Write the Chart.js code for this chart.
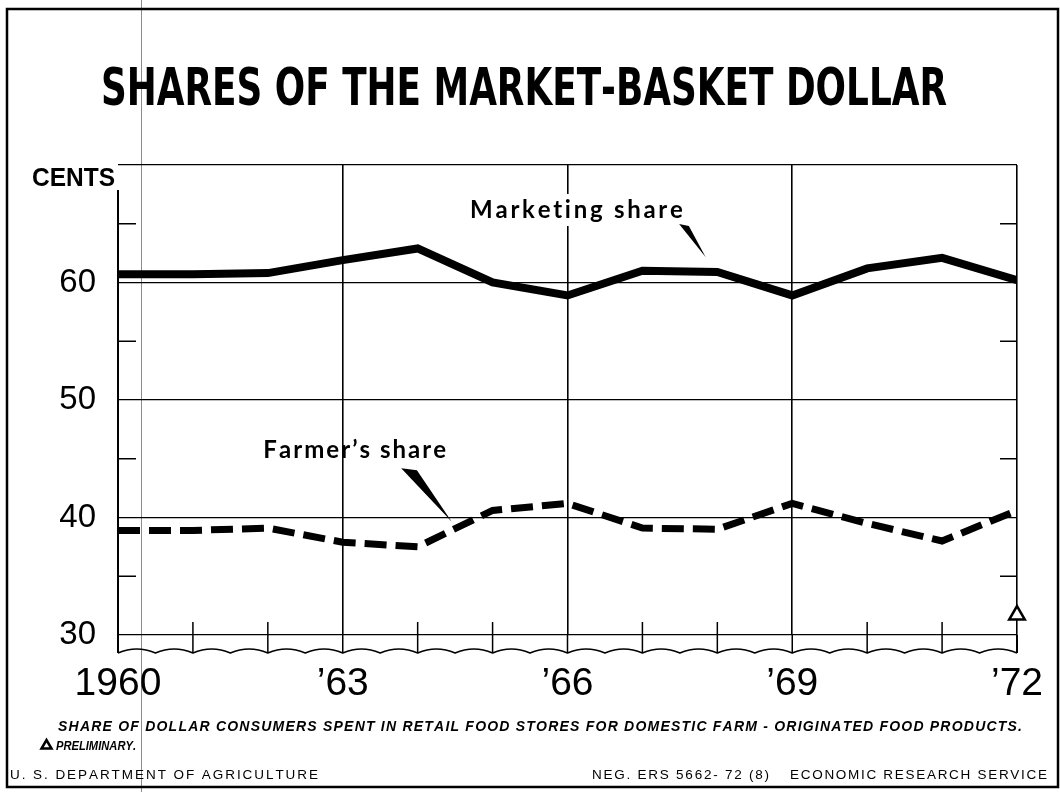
<!DOCTYPE html>
<html>
<head>
<meta charset="utf-8">
<script src="https://cdn.jsdelivr.net/npm/chart.js@4.4.0/dist/chart.umd.min.js"></script>
<style>
html, body { margin: 0; padding: 0; background: #fff; }
canvas { display: block; }
</style>
</head>
<body>
<canvas id="mygra" width="1060" height="792"></canvas>
<script>
// values (cents per market-basket dollar)
const years = [1960, 1961, 1962, 1963, 1964, 1965, 1966, 1967, 1968, 1969, 1970, 1971, 1972];
const marketingShare = [60.7, 60.7, 60.8, 61.9, 62.9, 60.0, 58.9, 61.0, 60.9, 58.9, 61.2, 62.1, 60.2];
const farmerShare = [38.9, 38.9, 39.1, 37.9, 37.5, 40.6, 41.2, 39.1, 39.0, 41.2, 39.5, 38.0, 40.6];
const preliminaryYear = [1972];
const preliminaryMark = [31.7];
const yearLabels = { 1960: '1960', 1963: '\u201963', 1966: '\u201966', 1969: '\u201969', 1972: '\u201972' };
const centsLabels = [30, 40, 50, 60];
const majorYears = [1963, 1966, 1969, 1972];

// letter-spaced text stretched to a given width
function spacedText(ctx, text, x, y, width) {
    const chars = Array.from(text);
    const widths = chars.map(c => ctx.measureText(c).width);
    const total = widths.reduce((a, b) => a + b, 0);
    ctx.save();
    ctx.textAlign = 'left';
    if (total > width) {
        ctx.translate(x, y);
        ctx.scale(width / total, 1);
        let cx = 0;
        chars.forEach((c, i) => { ctx.fillText(c, cx, 0); cx += widths[i]; });
    } else {
        const gap = chars.length > 1 ? (width - total) / (chars.length - 1) : 0;
        let cx = x;
        chars.forEach((c, i) => { ctx.fillText(c, cx, y); cx += widths[i] + gap; });
    }
    ctx.restore();
}

const paperDecor = {
    id: 'paperDecor',
    beforeDraw(chart) {
        const ctx = chart.ctx;
        ctx.save();
        ctx.fillStyle = '#fff';
        ctx.fillRect(0, 0, chart.width, chart.height);
        ctx.restore();
    },
    beforeDatasetsDraw(chart) {
        // paper gap in the '66 grid line behind the marketing note
        const xs = chart.scales.x, ys = chart.scales.y;
        const ctx = chart.ctx;
        ctx.save();
        ctx.fillStyle = '#fff';
        const x0 = xs.getPixelForValue(1964.70), x1 = xs.getPixelForValue(1967.54);
        const yb = ys.getPixelForValue(65.49);
        ctx.fillRect(x0, yb - 24, x1 - x0, 32);
        ctx.restore();
    },
    afterDraw(chart) {
        const ctx = chart.ctx;
        const xs = chart.scales.x, ys = chart.scales.y;
        const X = v => xs.getPixelForValue(v);
        const Y = v => ys.getPixelForValue(v);
        const base = Y(30);
        const waveY = base + 18;

        ctx.save();
        ctx.strokeStyle = '#000';
        ctx.fillStyle = '#000';

        // left axis, right axis and grid extensions down to the broken baseline
        ctx.lineWidth = 2;
        ctx.beginPath();
        ctx.moveTo(X(1960), 190); ctx.lineTo(X(1960), waveY);
        ctx.moveTo(X(1972), base); ctx.lineTo(X(1972), waveY);
        ctx.stroke();
        ctx.lineWidth = 1.5;
        ctx.beginPath();
        years.forEach(yr => {
            if (yr === 1960 || yr === 1972) return;
            const top = majorYears.includes(yr) ? base : base - 13;
            ctx.moveTo(X(yr), top); ctx.lineTo(X(yr), waveY);
        });
        // minor cent ticks on both sides
        [35, 45, 55, 65].forEach(v => {
            ctx.moveTo(X(1960), Y(v)); ctx.lineTo(X(1960) + 18, Y(v));
            ctx.moveTo(X(1972), Y(v)); ctx.lineTo(X(1972) - 17, Y(v));
        });
        ctx.stroke();

        // wavy break line
        const half = (X(1961) - X(1960)) / 2;
        ctx.lineWidth = 1.6;
        ctx.beginPath();
        ctx.moveTo(X(1960), waveY);
        for (let px = X(1960); px < X(1972) - 0.5; px += half) {
            const nx = Math.min(px + half, X(1972));
            ctx.quadraticCurveTo((px + nx) / 2, waveY - 8, nx, waveY);
        }
        ctx.stroke();

        // title
        ctx.font = 'bold 52px "Liberation Sans Narrow", "DejaVu Sans Condensed", sans-serif';
        ctx.textBaseline = 'alphabetic';
        spacedText(ctx, 'SHARES OF THE MARKET-BASKET DOLLAR', 101, 105, 846);

        // unit label
        ctx.font = 'bold 25px "Liberation Sans", sans-serif';
        spacedText(ctx, 'CENTS', 32, 186, 83);

        // series notes with pointers
        ctx.font = 'bold 24px Lato, "Liberation Sans", sans-serif';
        spacedText(ctx, 'Marketing share', X(1964.70), Y(65.49), X(1967.54) - X(1964.70));
        spacedText(ctx, 'Farmer\u2019s share', X(1961.94), Y(45.06), X(1964.38) - X(1961.94));
        const wedge = (a, b, c) => {
            ctx.beginPath();
            ctx.moveTo(X(a[0]), Y(a[1]));
            ctx.lineTo(X(b[0]), Y(b[1]));
            ctx.lineTo(X(c[0]), Y(c[1]));
            ctx.closePath();
            ctx.fill();
        };
        wedge([1967.49, 64.98], [1967.62, 64.80], [1967.845, 62.14]);
        wedge([1963.78, 44.19], [1963.99, 44.02], [1964.455, 39.64]);

        // footnotes
        ctx.font = 'italic bold 14px "Liberation Sans", sans-serif';
        spacedText(ctx, 'SHARE OF DOLLAR CONSUMERS SPENT IN RETAIL FOOD STORES FOR DOMESTIC FARM - ORIGINATED FOOD PRODUCTS.', 58, 731, 964);
        ctx.font = 'italic bold 13px "Liberation Sans", sans-serif';
        spacedText(ctx, 'PRELIMINARY.', 56, 750, 80);
        ctx.lineWidth = 2.5;
        ctx.beginPath();
        ctx.moveTo(41.5, 748.5); ctx.lineTo(51.5, 748.5); ctx.lineTo(46.5, 740);
        ctx.closePath();
        ctx.stroke();

        ctx.font = '13.5px "Liberation Sans", sans-serif';
        spacedText(ctx, 'U. S. DEPARTMENT OF AGRICULTURE', 10, 779, 308);
        spacedText(ctx, 'NEG. ERS 5662- 72 (8)', 592, 779, 177);
        spacedText(ctx, 'ECONOMIC RESEARCH SERVICE', 790, 779, 257);

        // page frame and crease
        ctx.lineWidth = 2.5;
        ctx.strokeRect(7, 9, 1051, 778);
        ctx.strokeStyle = 'rgba(0,0,0,0.45)';
        ctx.lineWidth = 1;
        ctx.beginPath();
        ctx.moveTo(141.5, 0); ctx.lineTo(141.5, 792);
        ctx.stroke();
        ctx.restore();
    }
};

const data = {
    datasets: [{
        label: 'Marketing share',
        data: years.map((yr, i) => ({ x: yr, y: marketingShare[i] })),
        borderColor: '#000',
        backgroundColor: '#000',
        borderWidth: 8,
        borderJoinStyle: 'miter',
        pointRadius: 0,
        tension: 0,
    }, {
        label: "Farmer's share",
        data: years.map((yr, i) => ({ x: yr, y: farmerShare[i] })),
        borderColor: '#000',
        backgroundColor: '#000',
        borderWidth: 7,
        borderDash: [22, 9],
        borderCapStyle: 'butt',
        borderJoinStyle: 'miter',
        pointRadius: 0,
        tension: 0,
    }, {
        label: 'Preliminary',
        data: preliminaryYear.map((yr, i) => ({ x: yr, y: preliminaryMark[i] })),
        showLine: false,
        pointStyle: 'triangle',
        pointRadius: 9,
        pointBorderWidth: 2.5,
        pointBorderColor: '#000',
        pointBackgroundColor: '#fff',
        clip: false,
    }]
};

const config = {
    type: 'line',
    data: data,
    plugins: [paperDecor],
    options: {
        responsive: false,
        animation: false,
        events: [],
        layout: { padding: { left: 0, right: 43, top: 165, bottom: 97 } },
        plugins: { legend: { display: false }, tooltip: { enabled: false } },
        scales: {
            x: {
                type: 'linear',
                min: 1960,
                max: 1972,
                afterFit: scale => {
                    scale.height = 60;
                    scale.paddingLeft = 0;
                    scale.paddingRight = 0;
                },
                border: { display: false },
                grid: {
                    drawTicks: false,
                    lineWidth: 1.6,
                    color: c => majorYears.includes(c.tick.value) ? '#000' : 'rgba(0,0,0,0)',
                },
                ticks: {
                    stepSize: 1,
                    autoSkip: false,
                    maxRotation: 0,
                    padding: 26,
                    color: '#000',
                    font: { family: '"Liberation Sans Narrow", sans-serif', size: 39 },
                    callback: v => yearLabels[v] || '',
                },
            },
            y: {
                min: 30,
                max: 70,
                afterFit: scale => { scale.width = 118; },
                border: { display: false },
                grid: {
                    drawTicks: false,
                    lineWidth: 1.3,
                    color: c => c.tick.value % 10 === 0 ? '#000' : 'rgba(0,0,0,0)',
                },
                ticks: {
                    stepSize: 5,
                    padding: 22,
                    color: '#000',
                    font: { family: '"Liberation Sans", sans-serif', size: 33 },
                    callback: v => centsLabels.includes(v) ? String(v) : '',
                },
            },
        },
    },
};

window.onload = function() {
    const ctx = document.getElementById('mygra').getContext('2d');
    window.myChart = new Chart(ctx, config);
};
</script>
</body>
</html>
